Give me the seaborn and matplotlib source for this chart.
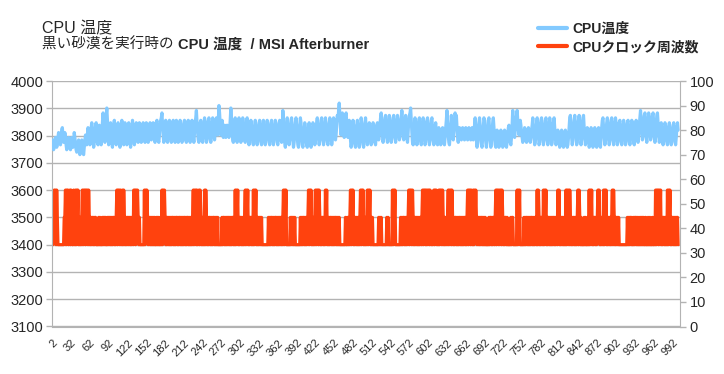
import numpy as np
import pandas as pd
import matplotlib
matplotlib.use("Agg")
import matplotlib.pyplot as plt
import seaborn as sns
from matplotlib.lines import Line2D
from matplotlib.ticker import MultipleLocator

# CPU temperature (deg C, right axis), one sample per category
cpu_temp = [
    76, 74, 72, 73, 76, 77, 75, 73, 74, 77, 79, 78, 75, 74, 77, 80, 81, 78, 75, 76,
    79, 77, 74, 72, 73, 76, 77, 75, 73, 72, 74, 77, 76, 73, 74, 79, 77, 74, 72, 71,
    72, 75, 76, 73, 70, 71, 74, 76, 74, 71, 70, 73, 76, 78, 75, 74, 78, 81, 79, 76,
    74, 77, 81, 83, 80, 76, 73, 75, 79, 82, 83, 79, 75, 74, 78, 82, 81, 77, 74, 78,
    83, 87, 84, 79, 75, 80, 86, 89, 84, 78, 74, 77, 81, 83, 79, 75, 73, 77, 82, 84,
    80, 76, 74, 78, 82, 83, 79, 75, 73, 76, 81, 84, 80, 76, 74, 79, 83, 82, 77, 74,
    77, 81, 83, 79, 75, 73, 76, 80, 84, 81, 77, 74, 76, 81, 83, 80, 76, 75, 79, 83,
    81, 77, 75, 78, 82, 83, 79, 76, 75, 79, 83, 81, 77, 75, 78, 82, 83, 80, 76, 77,
    81, 83, 79, 76, 75, 79, 83, 84, 80, 76, 75, 78, 82, 84, 85, 87, 82, 78, 75, 79,
    83, 84, 80, 76, 75, 79, 83, 84, 81, 77, 75, 78, 82, 84, 80, 76, 75, 80, 84, 82,
    78, 75, 77, 81, 84, 82, 78, 75, 76, 80, 83, 84, 79, 76, 75, 79, 83, 84, 80, 77,
    75, 78, 82, 84, 81, 77, 75, 79, 83, 85, 88, 83, 79, 76, 75, 79, 83, 84, 80, 76,
    75, 78, 82, 85, 83, 79, 75, 76, 80, 84, 85, 81, 77, 75, 78, 82, 85, 82, 78, 76,
    79, 83, 85, 81, 78, 84, 90, 87, 82, 78, 80, 84, 81, 77, 79, 82, 80, 77, 78, 82,
    81, 78, 77, 80, 84, 89, 85, 80, 76, 75, 79, 83, 85, 81, 77, 75, 78, 82, 85, 82,
    78, 75, 77, 81, 85, 83, 79, 76, 75, 79, 83, 85, 80, 76, 74, 77, 81, 84, 82, 78,
    75, 74, 78, 82, 84, 81, 77, 74, 76, 80, 83, 84, 79, 75, 74, 78, 82, 84, 80, 76,
    74, 77, 81, 84, 82, 78, 75, 74, 78, 83, 84, 80, 76, 74, 77, 81, 84, 83, 79, 75,
    74, 78, 82, 84, 80, 76, 75, 80, 88, 84, 79, 75, 73, 77, 82, 85, 81, 77, 74, 76,
    80, 84, 85, 81, 76, 73, 75, 79, 83, 85, 82, 77, 74, 73, 77, 82, 85, 83, 78, 74,
    73, 76, 80, 83, 81, 77, 74, 73, 77, 81, 83, 80, 76, 73, 75, 79, 83, 82, 78, 74,
    75, 79, 83, 85, 81, 77, 74, 76, 80, 84, 85, 80, 76, 74, 77, 82, 85, 83, 78, 75,
    74, 78, 82, 85, 82, 77, 74, 76, 81, 85, 84, 79, 76, 78, 82, 86, 84, 88, 91, 86,
    81, 78, 82, 87, 84, 79, 77, 81, 86, 87, 83, 78, 77, 81, 84, 80, 76, 73, 75, 80,
    84, 82, 77, 74, 73, 77, 82, 84, 80, 76, 73, 76, 81, 85, 83, 78, 74, 73, 77, 82,
    85, 81, 77, 74, 76, 80, 83, 81, 77, 74, 75, 79, 83, 82, 78, 75, 74, 78, 82, 83,
    79, 76, 78, 82, 85, 87, 83, 78, 75, 77, 81, 85, 86, 82, 77, 75, 78, 83, 86, 83,
    78, 75, 77, 81, 85, 86, 82, 77, 75, 78, 83, 86, 84, 79, 76, 77, 82, 85, 88, 84,
    79, 76, 78, 83, 86, 82, 77, 75, 79, 84, 86, 87, 89, 84, 79, 75, 74, 78, 82, 85,
    83, 78, 74, 75, 79, 84, 85, 81, 76, 74, 77, 82, 85, 83, 78, 74, 75, 80, 84, 85,
    81, 77, 74, 76, 80, 84, 85, 80, 76, 74, 77, 81, 83, 79, 75, 74, 77, 81, 80, 76,
    74, 76, 79, 81, 78, 75, 74, 77, 81, 84, 88, 83, 78, 75, 74, 78, 82, 86, 82, 78,
    76, 79, 83, 87, 84, 86, 81, 77, 75, 78, 81, 80, 77, 76, 79, 81, 80, 77, 76, 79,
    81, 80, 77, 76, 78, 81, 80, 77, 76, 79, 81, 79, 76, 78, 82, 85, 81, 76, 73, 75,
    79, 83, 85, 82, 77, 74, 73, 77, 81, 85, 84, 79, 75, 73, 76, 80, 84, 85, 80, 76,
    73, 75, 79, 83, 85, 81, 77, 74, 73, 77, 80, 79, 76, 73, 74, 77, 80, 79, 76, 73,
    74, 77, 80, 79, 75, 73, 75, 78, 81, 82, 78, 75, 74, 77, 82, 88, 83, 79, 77, 80,
    84, 86, 88, 84, 80, 78, 81, 84, 82, 79, 77, 75, 76, 79, 81, 80, 77, 75, 76, 79,
    81, 80, 77, 75, 77, 80, 82, 85, 81, 77, 74, 75, 79, 83, 85, 82, 78, 74, 75, 80,
    84, 85, 81, 77, 74, 76, 80, 84, 85, 80, 76, 74, 77, 82, 85, 83, 78, 74, 75, 79,
    83, 85, 81, 77, 74, 75, 78, 80, 78, 75, 73, 74, 77, 80, 79, 76, 73, 74, 77, 80,
    79, 76, 73, 74, 77, 81, 85, 86, 82, 77, 74, 76, 80, 84, 86, 83, 78, 74, 75, 79,
    84, 86, 83, 78, 74, 76, 80, 85, 86, 81, 77, 74, 75, 79, 81, 79, 76, 73, 74, 78,
    81, 80, 76, 73, 74, 78, 81, 79, 76, 73, 75, 79, 81, 78, 74, 73, 77, 81, 84, 85,
    81, 77, 74, 75, 79, 83, 85, 82, 77, 74, 76, 80, 84, 85, 81, 76, 74, 77, 82, 85,
    83, 78, 74, 75, 79, 83, 84, 80, 76, 74, 77, 81, 84, 82, 78, 74, 75, 79, 83, 84,
    80, 76, 74, 77, 81, 84, 83, 78, 75, 74, 78, 82, 84, 81, 77, 75, 78, 82, 85, 88,
    84, 79, 76, 78, 83, 86, 87, 82, 77, 75, 79, 84, 87, 85, 80, 76, 77, 82, 86, 87,
    83, 78, 75, 77, 82, 86, 87, 83, 78, 75, 77, 81, 83, 80, 76, 74, 76, 80, 83, 82,
    78, 75, 74, 77, 81, 83, 80, 76, 74, 75, 79, 82, 83, 79, 76, 74, 77, 81, 83, 80,
]

# CPU clock frequency (MHz, left axis)
cpu_clock = [
    3500, 3400, 3500, 3600, 3500, 3600, 3400, 3600, 3500, 3400, 3400, 3400, 3400, 3400, 3400, 3400, 3400, 3400, 3400, 3500,
    3500, 3600, 3400, 3600, 3500, 3600, 3400, 3500, 3600, 3400, 3600, 3500, 3400, 3400, 3600, 3500, 3400, 3600, 3400, 3600,
    3500, 3600, 3400, 3500, 3400, 3500, 3400, 3500, 3600, 3400, 3600, 3500, 3600, 3400, 3600, 3500, 3600, 3400, 3600, 3500,
    3400, 3500, 3400, 3500, 3500, 3400, 3500, 3400, 3500, 3500, 3400, 3400, 3400, 3400, 3500, 3400, 3500, 3400, 3400, 3400,
    3500, 3400, 3500, 3500, 3400, 3500, 3400, 3400, 3500, 3400, 3500, 3500, 3400, 3500, 3400, 3500, 3400, 3500, 3500, 3400,
    3500, 3400, 3500, 3600, 3400, 3600, 3500, 3600, 3400, 3600, 3500, 3400, 3600, 3400, 3600, 3500, 3400, 3500, 3400, 3500,
    3500, 3400, 3500, 3500, 3400, 3500, 3400, 3500, 3500, 3400, 3600, 3500, 3600, 3400, 3600, 3500, 3600, 3500, 3400, 3500,
    3400, 3400, 3400, 3400, 3400, 3400, 3400, 3600, 3400, 3600, 3500, 3600, 3500, 3400, 3500, 3500, 3400, 3500, 3400, 3500,
    3400, 3500, 3400, 3500, 3400, 3400, 3500, 3400, 3500, 3400, 3500, 3400, 3400, 3500, 3400, 3600, 3400, 3600, 3500, 3600,
    3500, 3400, 3500, 3400, 3500, 3500, 3400, 3500, 3400, 3500, 3400, 3500, 3500, 3400, 3500, 3400, 3500, 3400, 3500, 3500,
    3400, 3500, 3400, 3500, 3500, 3400, 3500, 3400, 3500, 3400, 3500, 3500, 3400, 3500, 3400, 3500, 3500, 3400, 3500, 3400,
    3500, 3400, 3500, 3400, 3500, 3600, 3400, 3600, 3500, 3600, 3400, 3600, 3400, 3500, 3600, 3400, 3600, 3500, 3400, 3500,
    3400, 3500, 3400, 3600, 3400, 3600, 3500, 3400, 3500, 3400, 3500, 3500, 3400, 3500, 3400, 3500, 3400, 3500, 3500, 3400,
    3500, 3400, 3500, 3400, 3500, 3400, 3400, 3400, 3400, 3400, 3400, 3500, 3400, 3500, 3500, 3400, 3500, 3400, 3500, 3400,
    3500, 3500, 3400, 3500, 3400, 3500, 3400, 3500, 3500, 3400, 3500, 3400, 3600, 3400, 3600, 3500, 3600, 3400, 3500, 3400,
    3500, 3500, 3400, 3500, 3400, 3500, 3400, 3500, 3600, 3400, 3600, 3500, 3600, 3400, 3500, 3400, 3500, 3500, 3400, 3500,
    3400, 3600, 3400, 3600, 3500, 3600, 3400, 3500, 3400, 3500, 3400, 3500, 3500, 3400, 3500, 3400, 3400, 3400, 3400, 3400,
    3400, 3400, 3400, 3400, 3400, 3500, 3400, 3500, 3400, 3500, 3500, 3400, 3500, 3400, 3500, 3400, 3500, 3500, 3400, 3500,
    3400, 3500, 3400, 3500, 3500, 3400, 3500, 3400, 3500, 3600, 3400, 3600, 3500, 3600, 3400, 3400, 3400, 3400, 3400, 3400,
    3500, 3400, 3500, 3500, 3400, 3500, 3400, 3500, 3400, 3400, 3400, 3400, 3400, 3400, 3400, 3400, 3500, 3400, 3500, 3400,
    3500, 3500, 3400, 3500, 3400, 3500, 3400, 3500, 3500, 3600, 3400, 3600, 3500, 3600, 3400, 3500, 3400, 3500, 3400, 3500,
    3600, 3400, 3600, 3500, 3600, 3400, 3600, 3500, 3400, 3500, 3400, 3500, 3500, 3400, 3500, 3400, 3600, 3500, 3600, 3400,
    3500, 3400, 3500, 3400, 3500, 3500, 3400, 3500, 3400, 3500, 3400, 3500, 3500, 3400, 3500, 3400, 3500, 3400, 3500, 3400,
    3400, 3400, 3400, 3400, 3400, 3400, 3400, 3400, 3500, 3400, 3400, 3500, 3400, 3500, 3400, 3500, 3600, 3400, 3600, 3500,
    3600, 3400, 3500, 3400, 3500, 3500, 3400, 3500, 3400, 3500, 3400, 3500, 3600, 3400, 3600, 3500, 3600, 3400, 3500, 3400,
    3500, 3400, 3500, 3600, 3400, 3600, 3500, 3600, 3400, 3500, 3400, 3500, 3400, 3400, 3400, 3400, 3400, 3400, 3400, 3400,
    3400, 3500, 3400, 3500, 3400, 3500, 3400, 3400, 3400, 3400, 3400, 3400, 3400, 3400, 3500, 3400, 3500, 3400, 3400, 3400,
    3400, 3400, 3400, 3600, 3400, 3600, 3500, 3600, 3400, 3400, 3400, 3400, 3400, 3400, 3400, 3400, 3500, 3400, 3500, 3400,
    3500, 3500, 3400, 3500, 3400, 3500, 3400, 3500, 3500, 3600, 3400, 3600, 3500, 3600, 3400, 3600, 3500, 3400, 3500, 3400,
    3500, 3500, 3400, 3500, 3400, 3500, 3400, 3500, 3500, 3400, 3500, 3600, 3400, 3600, 3500, 3600, 3400, 3600, 3400, 3600,
    3500, 3600, 3400, 3600, 3500, 3400, 3500, 3400, 3500, 3600, 3400, 3600, 3500, 3600, 3400, 3500, 3400, 3600, 3400, 3600,
    3500, 3600, 3400, 3600, 3500, 3400, 3500, 3400, 3500, 3500, 3400, 3500, 3600, 3400, 3600, 3500, 3600, 3400, 3600, 3500,
    3400, 3500, 3400, 3500, 3500, 3400, 3500, 3400, 3500, 3400, 3500, 3500, 3400, 3500, 3400, 3500, 3400, 3500, 3500, 3400,
    3500, 3400, 3500, 3600, 3400, 3600, 3500, 3600, 3400, 3600, 3500, 3400, 3600, 3400, 3600, 3500, 3600, 3500, 3400, 3500,
    3500, 3400, 3500, 3400, 3500, 3500, 3400, 3500, 3400, 3500, 3400, 3500, 3400, 3400, 3400, 3400, 3400, 3500, 3400, 3500,
    3500, 3400, 3500, 3400, 3500, 3500, 3400, 3500, 3600, 3400, 3600, 3500, 3600, 3400, 3600, 3500, 3600, 3400, 3600, 3500,
    3400, 3500, 3400, 3500, 3500, 3400, 3500, 3400, 3400, 3400, 3400, 3400, 3500, 3400, 3500, 3500, 3400, 3400, 3400, 3400,
    3400, 3400, 3600, 3400, 3600, 3500, 3600, 3400, 3400, 3400, 3400, 3400, 3400, 3500, 3400, 3500, 3400, 3500, 3500, 3400,
    3500, 3400, 3500, 3400, 3500, 3500, 3400, 3500, 3400, 3500, 3400, 3500, 3500, 3400, 3600, 3400, 3600, 3500, 3400, 3500,
    3400, 3500, 3500, 3400, 3600, 3400, 3600, 3500, 3600, 3400, 3500, 3400, 3500, 3500, 3400, 3500, 3400, 3500, 3400, 3500,
    3500, 3400, 3500, 3400, 3500, 3500, 3400, 3600, 3500, 3600, 3400, 3500, 3400, 3500, 3500, 3400, 3500, 3400, 3500, 3400,
    3600, 3400, 3600, 3500, 3600, 3400, 3600, 3500, 3400, 3500, 3400, 3500, 3500, 3400, 3500, 3400, 3500, 3400, 3500, 3600,
    3400, 3600, 3500, 3400, 3500, 3400, 3400, 3400, 3400, 3500, 3400, 3500, 3400, 3400, 3400, 3500, 3400, 3600, 3400, 3600,
    3500, 3600, 3400, 3500, 3400, 3500, 3500, 3400, 3500, 3400, 3500, 3600, 3500, 3600, 3400, 3500, 3400, 3500, 3500, 3400,
    3600, 3400, 3600, 3500, 3600, 3400, 3500, 3400, 3500, 3500, 3400, 3500, 3400, 3500, 3600, 3400, 3600, 3500, 3400, 3500,
    3400, 3500, 3500, 3400, 3500, 3400, 3400, 3400, 3400, 3400, 3400, 3400, 3400, 3400, 3400, 3400, 3400, 3400, 3500, 3400,
    3500, 3400, 3500, 3500, 3400, 3500, 3400, 3400, 3500, 3400, 3500, 3500, 3400, 3500, 3400, 3500, 3400, 3400, 3500, 3400,
    3500, 3400, 3500, 3400, 3500, 3400, 3400, 3500, 3400, 3400, 3400, 3500, 3400, 3400, 3500, 3400, 3400, 3400, 3500, 3400,
    3400, 3500, 3400, 3600, 3400, 3600, 3500, 3600, 3400, 3600, 3500, 3600, 3400, 3500, 3400, 3500, 3500, 3400, 3500, 3400,
    3500, 3400, 3600, 3400, 3600, 3500, 3600, 3400, 3500, 3400, 3500, 3500, 3400, 3500, 3400, 3500, 3400, 3500, 3500, 3400,
]

x_tick_labels = ["2", "32", "62", "92", "122", "152", "182", "212", "242", "272",
                 "302", "332", "362", "392", "422", "452", "482", "512", "542", "572",
                 "602", "632", "662", "692", "722", "752", "782", "812", "842", "872",
                 "902", "932", "962", "992"]

series_names = ["CPU温度", "CPUクロック周波数"]
colors = ["#83caff", "#ff420e"]
grey = "#b3b3b3"

sns.set_style("white")
plt.rcParams['font.family'] = ['Liberation Sans', 'Noto Sans CJK JP', 'DejaVu Sans']

df_temp = pd.DataFrame({"sample": np.arange(len(cpu_temp)), "temp": cpu_temp})
df_clock = pd.DataFrame({"sample": np.arange(len(cpu_clock)), "clock": cpu_clock})

fig = plt.figure(figsize=(7.24, 3.74), dpi=100)
ax = fig.add_axes([52 / 724, 1 - 326.5 / 374, 628 / 724, 245.5 / 374])
ax2 = ax.twinx()

sns.lineplot(data=df_clock, x="sample", y="clock", ax=ax, color=colors[1],
             linewidth=2.3, errorbar=None)
sns.lineplot(data=df_temp, x="sample", y="temp", ax=ax2, color=colors[0],
             linewidth=2.3, errorbar=None)

ax.set_xlim(-0.5, 1002)
ax.set_ylim(3100, 4000)
ax2.set_ylim(0, 100)
ax.yaxis.set_major_locator(MultipleLocator(100))
ax2.yaxis.set_major_locator(MultipleLocator(10))
ax.yaxis.grid(True, color=grey, linewidth=1)
ax.set_axisbelow(True)

ax.set_xticks(np.arange(len(x_tick_labels)) * 30)
ax.set_xticklabels(x_tick_labels, rotation=45, ha="right", rotation_mode="anchor",
                   fontsize=8)
ax.xaxis.set_minor_locator(MultipleLocator(5))
ax.tick_params(axis="x", which="both", direction="out", length=5, width=2,
               color=grey, pad=3)
ax.tick_params(axis="y", direction="out", length=4, width=1, color=grey,
               labelsize=10.5, pad=2)
ax2.tick_params(axis="y", direction="out", length=4, width=1, color=grey,
                labelsize=10.5, pad=3)

for a in (ax, ax2):
    a.set_xlabel("")
    a.set_ylabel("")
    for s in a.spines.values():
        s.set_visible(False)
ax.spines["left"].set_visible(True)
ax.spines["left"].set_color(grey)
ax.spines["bottom"].set_visible(True)
ax.spines["bottom"].set_color(grey)
ax2.spines["right"].set_visible(True)
ax2.spines["right"].set_color(grey)

# titles
fig.text(42 / 724, 1 - 33 / 374, "CPU 温度", fontsize=11.5, va="baseline")
t_reg = fig.text(42 / 724, 1 - 49 / 374, "黒い砂漠を実行時の ", fontsize=10.5,
                 va="baseline")
fig.canvas.draw()
bb = t_reg.get_window_extent()
fig.text(bb.x1 / fig.bbox.width, 1 - 49 / 374, "CPU 温度  / MSI Afterburner",
         fontsize=10.5, fontweight="bold", va="baseline")

handles = [Line2D([], [], color=c, linewidth=3) for c in colors]
leg = fig.legend(handles, series_names, loc="upper left",
                 bbox_to_anchor=(538 / 724, 1 - 22 / 374), frameon=False,
                 borderpad=0, borderaxespad=0, handlelength=2.1,
                 handletextpad=0.4, labelspacing=0.3,
                 prop={"size": 10, "weight": "bold"})

fig.savefig("out.png", dpi=100)
